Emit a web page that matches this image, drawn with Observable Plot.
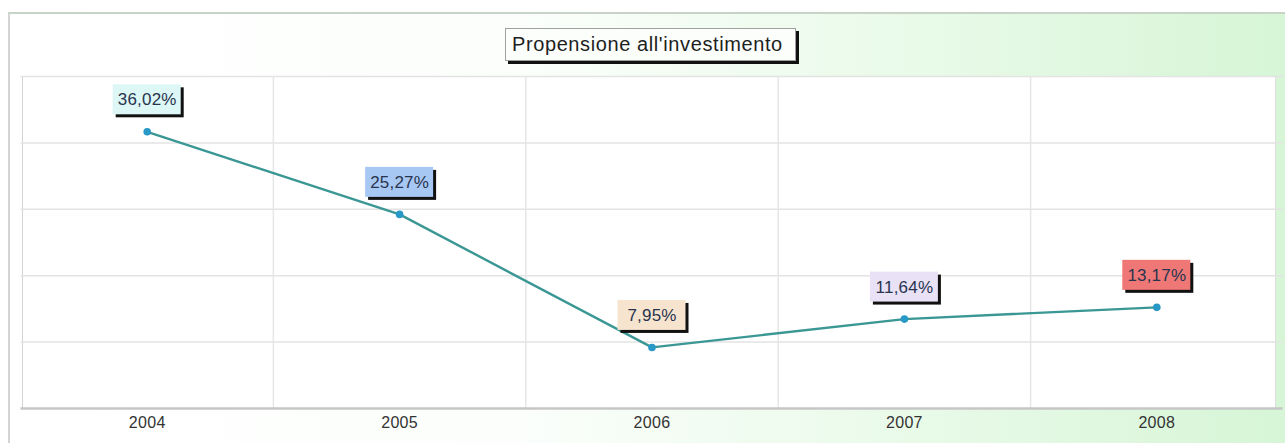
<!DOCTYPE html>
<html>
<head>
<meta charset="utf-8">
<script src="https://cdn.jsdelivr.net/npm/d3@7"></script>
<script src="https://cdn.jsdelivr.net/npm/@observablehq/plot@0.6"></script>
<style>
  body { margin: 0; background: #ffffff; font-family: "Liberation Sans", Arial, sans-serif; }
  #wrap { position: relative; width: 1285px; height: 443px; overflow: hidden; }
  #frame { position: absolute; left: 8px; top: 12px; width: 1285px; height: 440px;
    border-top: 2px solid #c6d3c6; border-left: 2px solid #d4d4d4;
    background: linear-gradient(to right, #ffffff 0%, #fbfefb 40%, #e9fae9 70%, #d6f5d6 100%); }
  #plotbg { position: absolute; left: 22px; top: 76px; width: 1254px; height: 332px;
    background: #ffffff; border-left: 1px solid #d2d2d2; border-right: 1px solid #dedede; box-sizing: border-box; }
  #title { position: absolute; left: 505px; top: 28px; width: 291px; height: 33px; box-sizing: border-box;
    border: 1px solid #a0a0a0; background: #fcfefc; box-shadow: 3px 3px 0 #111111;
    font-size: 20px; letter-spacing: 0.6px; line-height: 31px; padding-left: 6px; color: #1e1e1e; white-space: nowrap; }
  #chart { position: absolute; left: 0; top: 66px; }
</style>
</head>
<body>
<div id="wrap">
  <div id="frame"></div>
  <div id="plotbg"></div>
  <div id="title"></div>
  <div id="chart"></div>
</div>
<script>
const title = "Propensione all'investimento";
const years = [2004, 2005, 2006, 2007, 2008];
const values = [36.02, 25.27, 7.95, 11.64, 13.17];
const labelColors = ["#ddf6f6", "#a8c8f4", "#f6e4cf", "#e9e1f6", "#ef7876"];
const yMax = 43.22;
const gridValues = [8.644, 17.288, 25.932, 34.576, 43.22];
const gridYears = [2004.5, 2005.5, 2006.5, 2007.5];

document.getElementById("title").textContent = title;

const data = years.map((year, i) => ({
  year,
  value: values[i],
  label: values[i].toFixed(2).replace(".", ",") + "%",
  color: labelColors[i]
}));

// label box geometry in pixels relative to the point
const boxHalfW = 34, boxTop = 47, boxBottom = 17;
const boxOpts = {
  x1: "year", x2: "year", y1: "value", y2: "value",
  insetLeft: -boxHalfW, insetRight: -boxHalfW, insetTop: -boxTop, insetBottom: boxBottom
};

const chart = Plot.plot({
  width: 1285,
  height: 377,
  marginTop: 10,
  marginBottom: 35,
  marginLeft: 20.5,
  marginRight: 2.5,
  style: { background: "transparent", fontFamily: "Liberation Sans, Arial, sans-serif", fontSize: "16px", color: "#333333" },
  x: { domain: [2003.5, 2008.5], ticks: years, tickFormat: d => String(d), tickSize: 0, tickPadding: 8, label: null },
  y: { domain: [0, yMax], axis: null },
  color: { type: "identity" },
  marks: [
    Plot.ruleY(gridValues, { stroke: "#e3e3e3", strokeWidth: 1.5 }),
    Plot.ruleX(gridYears, { y1: () => 0, y2: () => yMax, stroke: "#e6e6e6", strokeWidth: 1.5 }),
    Plot.ruleY([0], { stroke: "#c6c6c6", strokeWidth: 2.5 }),
    Plot.line(data, { x: "year", y: "value", stroke: "#3a9794", strokeWidth: 2.4 }),
    Plot.dot(data, { x: "year", y: "value", r: 3.8, fill: "#2898c6" }),
    Plot.rect(data, { ...boxOpts, dx: 3, dy: 3, fill: "#111111" }),
    Plot.rect(data, { ...boxOpts, fill: "color" }),
    Plot.text(data, { x: "year", y: "value", text: "label", dy: -32, fontSize: 17, fill: "#28344e" })
  ]
});

document.getElementById("chart").append(chart);

chart.querySelectorAll('g[aria-label="x-axis tick label"] text').forEach(t => {
  t.style.letterSpacing = "0.3px";
});
chart.querySelectorAll('g[aria-label="text"] text').forEach(t => {
  t.style.letterSpacing = "0.2px";
});
</script>
</body>
</html>
